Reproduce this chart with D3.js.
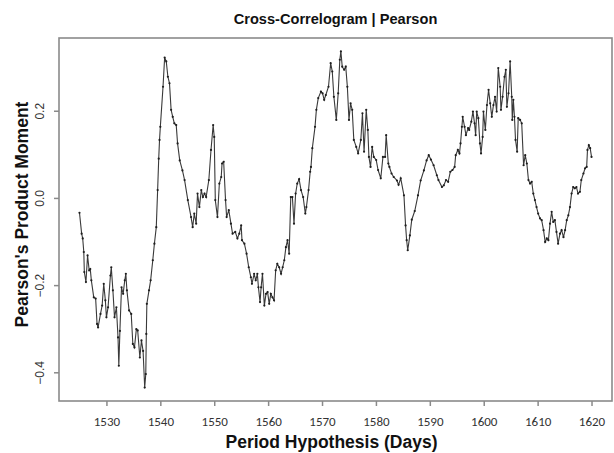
<!DOCTYPE html>
<html>
<head>
<meta charset="utf-8">
<script src="https://cdn.jsdelivr.net/npm/d3@7"></script>
<style>
body { margin: 0; background: #fff; }
text { font-family: "Liberation Sans", Arial, sans-serif; }
</style>
</head>
<body>
<div id="chart"></div>
<script>
// lag (days) and Pearson r
var days = [
1525.0,1525.4,1525.6,1525.8,1525.9,1526.2,1526.5,1526.8,1527.0,1527.2,
1527.65,1528.0,1528.26,1528.45,1528.9,1529.2,1529.5,1529.8,1530.0,1530.3,
1530.74,1530.9,1531.2,1531.5,1531.85,1532.15,1532.3,1532.5,1532.8,1533.1,
1533.4,1533.6,1533.8,1534.2,1534.6,1534.9,1535.2,1535.55,1535.8,1536.2,
1536.5,1536.8,1537.1,1537.3,1537.4,1537.5,1537.9,1538.2,1538.6,1538.9,
1539.25,1539.5,1539.7,1539.85,1540.0,1540.5,1540.8,1541.1,1541.4,1541.7,
1542.0,1542.3,1542.6,1542.95,1543.2,1543.6,1544.1,1544.5,1545.1,1545.7,
1546.0,1546.3,1546.65,1546.9,1547.25,1547.6,1547.9,1548.2,1548.5,1549.0,
1549.4,1549.8,1550.0,1550.2,1550.6,1550.95,1551.3,1551.45,1551.75,1552.1,
1552.3,1552.7,1553.1,1553.4,1553.9,1554.3,1554.65,1555.0,1555.15,1555.6,
1556.0,1556.4,1556.8,1557.0,1557.4,1557.7,1558.0,1558.2,1558.5,1558.7,
1558.95,1559.3,1559.6,1559.9,1560.2,1560.5,1560.8,1561.1,1561.4,1561.7,
1562.05,1562.4,1562.7,1563.0,1563.3,1563.6,1563.9,1564.2,1564.5,1564.8,
1565.1,1565.4,1565.75,1566.1,1566.5,1566.9,1567.1,1567.5,1567.8,1567.95,
1568.2,1568.7,1568.95,1569.3,1569.8,1570.1,1570.4,1570.7,1571.2,1571.6,
1571.9,1572.2,1572.65,1573.0,1573.3,1573.5,1573.75,1574.1,1574.4,1574.7,
1575.0,1575.3,1575.6,1575.9,1576.35,1576.7,1577.2,1577.5,1577.8,1578.2,
1578.5,1578.7,1579.0,1579.3,1579.6,1580.05,1580.4,1580.9,1581.3,1581.7,
1581.9,1582.3,1582.5,1582.9,1583.3,1583.9,1584.2,1584.6,1585.2,1585.5,
1585.7,1585.9,1586.3,1586.65,1587.2,1587.8,1588.3,1588.9,1589.4,1589.8,
1590.2,1590.7,1591.3,1591.6,1592.25,1592.6,1593.0,1593.4,1593.8,1594.2,
1594.6,1594.8,1595.2,1595.5,1595.7,1595.95,1596.1,1596.45,1596.7,1597.1,
1597.3,1597.7,1598.0,1598.3,1598.5,1598.7,1599.0,1599.3,1599.5,1599.8,
1599.95,1600.3,1600.6,1600.9,1601.2,1601.5,1601.8,1602.1,1602.4,1602.7,
1603.05,1603.2,1603.5,1603.85,1604.1,1604.3,1604.6,1604.9,1605.2,1605.3,
1605.5,1605.7,1605.9,1606.2,1606.4,1606.75,1607.05,1607.4,1607.7,1608.0,
1608.3,1608.6,1608.9,1609.2,1609.5,1609.8,1610.1,1610.45,1610.75,1611.1,
1611.4,1611.7,1612.0,1612.3,1612.6,1612.9,1613.2,1613.5,1613.8,1614.15,
1614.45,1614.8,1615.1,1615.4,1615.7,1616.0,1616.3,1616.6,1616.9,1617.2,
1617.5,1617.85,1618.1,1618.5,1618.8,1619.1,1619.25,1619.5,1619.75,1620.0
];
var corr = [
-0.034,-0.082,-0.093,-0.124,-0.170,-0.193,-0.132,-0.166,-0.163,-0.189,
-0.228,-0.231,-0.289,-0.297,-0.266,-0.247,-0.197,-0.235,-0.274,-0.251,
-0.178,-0.159,-0.212,-0.274,-0.251,-0.320,-0.385,-0.305,-0.205,-0.220,
-0.189,-0.174,-0.212,-0.258,-0.266,-0.335,-0.343,-0.301,-0.304,-0.366,
-0.327,-0.351,-0.435,-0.404,-0.312,-0.243,-0.212,-0.189,-0.143,-0.105,
-0.067,0.018,0.090,0.133,0.163,0.255,0.322,0.313,0.278,0.263,
0.202,0.186,0.171,0.167,0.125,0.086,0.063,0.041,-0.005,-0.044,
-0.067,-0.036,-0.059,0.010,-0.021,0.018,0.002,0.010,0.002,0.041,
0.110,0.167,0.140,-0.005,-0.044,0.033,0.048,0.079,0.083,-0.005,
-0.044,-0.028,-0.059,-0.082,-0.078,-0.093,-0.082,-0.063,-0.097,-0.105,
-0.128,-0.159,-0.182,-0.197,-0.174,-0.189,-0.174,-0.205,-0.239,-0.205,
-0.174,-0.247,-0.220,-0.216,-0.243,-0.220,-0.228,-0.235,-0.166,-0.151,
-0.159,-0.174,-0.159,-0.143,-0.113,-0.097,-0.128,0.002,0.002,-0.059,
0.010,0.033,0.043,0.018,0.002,-0.036,-0.021,0.018,0.060,0.071,
0.114,0.163,0.202,0.229,0.244,0.240,0.225,0.236,0.255,0.309,
0.290,0.232,0.179,0.240,0.317,0.336,0.301,0.294,0.301,0.255,
0.179,0.217,0.202,0.133,0.117,0.102,0.133,0.194,0.106,0.202,
0.156,0.094,0.071,0.117,0.094,0.087,0.064,0.045,0.094,0.094,
0.144,0.079,0.071,0.056,0.048,0.040,0.030,0.045,0.006,-0.063,
-0.097,-0.120,-0.086,-0.050,-0.030,0.006,0.040,0.063,0.086,0.098,
0.088,0.075,0.052,0.041,0.025,0.029,0.041,0.037,0.060,0.064,
0.071,0.098,0.110,0.102,0.125,0.163,0.186,0.163,0.144,0.160,
0.156,0.175,0.198,0.171,0.144,0.198,0.183,0.125,0.102,0.140,
0.198,0.156,0.213,0.248,0.217,0.186,0.213,0.232,0.198,0.298,
0.255,0.202,0.232,0.278,0.294,0.209,0.240,0.313,0.232,0.179,
0.225,0.186,0.133,0.106,0.183,0.179,0.171,0.075,0.098,0.079,
0.041,0.033,0.037,0.010,-0.005,-0.021,-0.036,-0.047,-0.051,-0.074,
-0.101,-0.093,-0.097,-0.059,-0.032,-0.055,-0.051,-0.078,-0.105,-0.082,
-0.074,-0.090,-0.074,-0.051,-0.040,-0.021,0.010,0.025,0.022,0.025,
0.010,0.014,0.041,0.056,0.068,0.071,0.110,0.121,0.114,0.094
];
var xTicks = [1530,1540,1550,1560,1570,1580,1590,1600,1610,1620];
var yTicks = [-0.4,-0.2,0.0,0.2];

var chart_size = {
  width: 614,
  height: 453,
  margin_left: 59,
  margin_top: 38,
  margin_right: 2,
  margin_bottom: 52
};
var boxColor = "#8a8a8a";

function drawChart() {
  var svg = d3.select("#chart").append("svg")
    .attr("width", chart_size.width)
    .attr("height", chart_size.height);

  var plotL = chart_size.margin_left,
      plotR = chart_size.width - chart_size.margin_right,
      plotT = chart_size.margin_top,
      plotB = chart_size.height - chart_size.margin_bottom;

  // R style 4% padding on both axes
  var xExt = d3.extent(days), yExt = d3.extent(corr);
  var xPad = (xExt[1] - xExt[0]) * 0.04, yPad = (yExt[1] - yExt[0]) * 0.04;

  var x = d3.scaleLinear().domain([xExt[0] - xPad, xExt[1] + xPad]).range([plotL, plotR]);
  var y = d3.scaleLinear().domain([yExt[0] - yPad, yExt[1] + yPad]).range([plotB, plotT]);

  var pts = days.map(function(d, i) { return [d, corr[i]]; });

  // series
  var line = d3.line()
    .x(function(d) { return x(d[0]); })
    .y(function(d) { return y(d[1]); });

  svg.append("path")
    .datum(pts)
    .attr("fill", "none")
    .attr("stroke", "#3a3a3a")
    .attr("stroke-width", 1.1)
    .attr("d", line);

  svg.append("g").selectAll("circle")
    .data(pts)
    .enter()
    .append("circle")
    .attr("cx", function(d) { return x(d[0]); })
    .attr("cy", function(d) { return y(d[1]); })
    .attr("r", 1.1)
    .attr("fill", "#1e1e1e");

  // axes
  var xAxis = svg.append("g")
    .attr("transform", "translate(0," + plotB + ")")
    .call(d3.axisBottom(x).tickValues(xTicks).tickSize(5).tickSizeOuter(0).tickPadding(11).tickFormat(d3.format("d")));
  xAxis.select(".domain").remove();
  xAxis.selectAll(".tick line").attr("stroke", boxColor).attr("stroke-width", 1.5);
  xAxis.selectAll(".tick text")
    .attr("fill", "#333")
    .style("font-family", "Carlito, 'Liberation Sans', sans-serif")
    .style("font-size", "13px");

  var yAxis = svg.append("g")
    .attr("transform", "translate(" + plotL + ",0)")
    .call(d3.axisLeft(y).tickValues(yTicks).tickSize(5).tickSizeOuter(0).tickFormat(d3.format(".1f")));
  yAxis.select(".domain").remove();
  yAxis.selectAll(".tick line").attr("stroke", boxColor).attr("stroke-width", 1.5);
  yAxis.selectAll(".tick text")
    .attr("fill", "#333")
    .attr("x", null)
    .attr("dy", null)
    .attr("text-anchor", "middle")
    .attr("transform", "translate(-15,0) rotate(-90)")
    .style("font-size", "12px");

  // frame
  svg.append("rect")
    .attr("x", plotL)
    .attr("y", plotT)
    .attr("width", plotR - plotL)
    .attr("height", plotB - plotT)
    .attr("fill", "none")
    .attr("stroke", boxColor)
    .attr("stroke-width", 1.6);

  // titles
  svg.append("text")
    .attr("x", (plotL + plotR) / 2)
    .attr("y", 24)
    .attr("text-anchor", "middle")
    .style("font-weight", "bold")
    .style("font-size", "14.6px")
    .attr("fill", "#111")
    .text("Cross-Correlogram | Pearson");

  svg.append("text")
    .attr("x", (plotL + plotR) / 2 - 4)
    .attr("y", 448)
    .attr("text-anchor", "middle")
    .style("font-weight", "bold")
    .style("font-size", "17.5px")
    .attr("fill", "#111")
    .text("Period Hypothesis (Days)");

  svg.append("text")
    .attr("transform", "translate(28," + ((plotT + plotB) / 2 - 5) + ") rotate(-90)")
    .attr("text-anchor", "middle")
    .style("font-weight", "bold")
    .style("font-size", "17.5px")
    .attr("fill", "#111")
    .text("Pearson's Product Moment");
}

drawChart();
</script>
</body>
</html>
